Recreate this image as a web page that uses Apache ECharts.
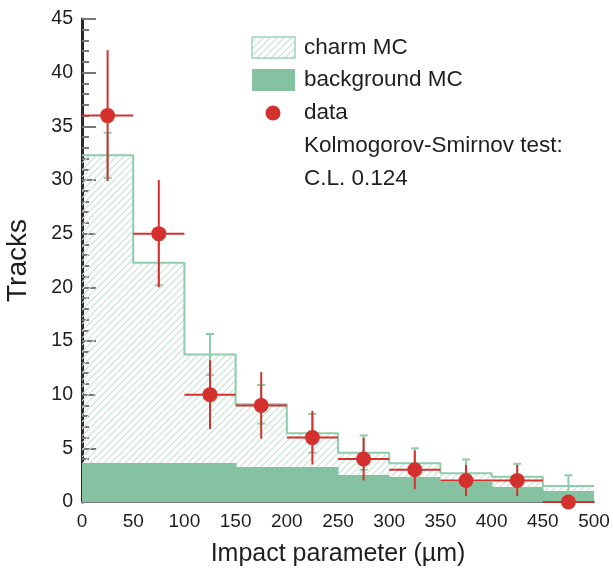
<!DOCTYPE html>
<html>
<head>
<meta charset="utf-8">
<script src="https://cdn.jsdelivr.net/npm/echarts@6/dist/echarts.min.js"></script>
<style>html,body{margin:0;padding:0;background:#fff;}#c{width:613px;height:569px;}</style>
</head>
<body>
<div id="c"></div>
<script>
// bin edges (µm)
var binEdges = [0, 50, 100, 150, 200, 250, 300, 350, 400, 450, 500];
// charm MC (total, stacked on background)
var mcTotal = [32.3, 22.3, 13.75, 9.1, 6.4, 4.6, 3.6, 2.67, 2.36, 1.49];
var mcErr = [2.1, 2.1, 1.9, 1.8, 1.8, 1.6, 1.4, 1.3, 1.2, 1.0];
// background MC
var bgMC = [3.6, 3.6, 3.6, 3.3, 3.3, 2.55, 2.35, 1.83, 1.37, 1.05];
// data
var dataVals = [36, 25, 10, 9, 6, 4, 3, 2, 2, 0];
var dataErr = [6.1, 5.0, 3.2, 3.1, 2.5, 2.0, 1.8, 1.45, 1.45, 0];
var xTicks = [0, 50, 100, 150, 200, 250, 300, 350, 400, 450, 500];
var yTicks = [0, 5, 10, 15, 20, 25, 30, 35, 40, 45];

var FONT = 'Liberation Sans, Arial, Helvetica, sans-serif';
var RED = '#d3302e';
var GREEN_FILL = '#84c2a2';
var GREEN_LINE = '#8dcdab';
var TEXT = '#1e1e1e';

// hatch pattern
var pc = document.createElement('canvas');
pc.width = 7; pc.height = 7;
var ctx = pc.getContext('2d');
ctx.strokeStyle = '#c8e3d5';
ctx.lineWidth = 1.2;
ctx.beginPath();
ctx.moveTo(0, 7); ctx.lineTo(7, 0);
ctx.moveTo(-1, 1); ctx.lineTo(1, -1);
ctx.moveTo(6, 8); ctx.lineTo(8, 6);
ctx.stroke();
var hatch = { image: pc, repeat: 'repeat' };

var bins = [];
for (var i = 0; i < mcTotal.length; i++) bins.push(i);

var mcRects = bins.map(function (i) { return [binEdges[i], binEdges[i + 1], mcTotal[i]]; });
var bgRects = bins.map(function (i) { return [binEdges[i], binEdges[i + 1], bgMC[i]]; });
var outline = bins.map(function (i) { return [binEdges[i], mcTotal[i]]; });
outline.push([binEdges[binEdges.length - 1], mcTotal[mcTotal.length - 1]]);
var mcErrData = bins.map(function (i) { return [(binEdges[i] + binEdges[i + 1]) / 2, mcTotal[i], mcErr[i]]; });
var dataErrData = bins.map(function (i) { return [binEdges[i], binEdges[i + 1], dataVals[i], dataErr[i]]; });
var dataPts = bins.map(function (i) { return [(binEdges[i] + binEdges[i + 1]) / 2, dataVals[i]]; });

function rectRender(fill) {
  return function (params, api) {
    var p0 = api.coord([api.value(0), api.value(2)]);
    var p1 = api.coord([api.value(1), 0]);
    var x0 = Math.round(p0[0]), x1 = Math.round(p1[0]);
    var y0 = Math.round(p0[1]), y1 = Math.round(p1[1]);
    return { type: 'rect', shape: { x: x0, y: y0, width: x1 - x0 + 0.5, height: y1 - y0 }, style: { fill: fill } };
  };
}

var chart = echarts.init(document.getElementById('c'), null, { renderer: 'canvas' });
chart.setOption({
  animation: false,
  backgroundColor: '#fff',
  textStyle: { fontFamily: FONT },
  grid: { left: 82, right: 19, top: 19, bottom: 67, containLabel: false, outerBoundsMode: 'none' },
  xAxis: [{
    type: 'value', min: 0, max: 500, interval: 50,
    name: 'Impact parameter (µm)', nameLocation: 'middle', nameGap: 40,
    nameTextStyle: { fontSize: 25, color: TEXT, fontFamily: FONT },
    axisLine: { show: true, lineStyle: { color: '#b5b5b5', width: 1 } },
    axisTick: { show: false },
    splitLine: { show: false },
    axisLabel: { fontSize: 19, color: TEXT, margin: 10, fontFamily: FONT,
      formatter: function (v) { return xTicks.indexOf(v) >= 0 ? String(v) : ''; } }
  }, {
    type: 'value', min: 0, max: 500, position: 'top',
    axisLine: { show: true, lineStyle: { color: '#777', width: 2 } },
    axisTick: { show: false }, axisLabel: { show: false }, splitLine: { show: false }
  }],
  yAxis: [{
    type: 'value', min: 0, max: 45, interval: 5,
    name: 'Tracks', nameLocation: 'middle', nameGap: 50, nameRotate: 90,
    nameTextStyle: { fontSize: 28, color: TEXT, fontFamily: FONT },
    axisLine: { show: true, lineStyle: { color: '#777', width: 2 } },
    axisTick: { show: true, inside: true, length: 14, lineStyle: { color: '#777', width: 2 } },
    minorTick: { show: true, splitNumber: 5, length: 7, lineStyle: { color: '#777', width: 2 } },
    splitLine: { show: false },
    axisLabel: { fontSize: 19.5, color: TEXT, margin: 9, fontFamily: FONT,
      formatter: function (v) { return yTicks.indexOf(v) >= 0 ? String(v) : ''; } }
  }, {
    type: 'value', min: 0, max: 45, position: 'right',
    axisLine: { show: true, lineStyle: { color: '#2a2a2a', width: 3 } },
    axisTick: { show: false }, axisLabel: { show: false }, splitLine: { show: false }
  }],
  series: [
    { type: 'custom', name: 'charm MC', z: 1, data: mcRects, renderItem: rectRender(hatch), clip: true },
    { type: 'custom', name: 'background MC', z: 2, data: bgRects, renderItem: rectRender(GREEN_FILL), clip: true },
    { type: 'line', name: 'outline', z: 3, step: 'end', data: outline, symbol: 'none',
      lineStyle: { color: GREEN_LINE, width: 2 } },
    { type: 'custom', name: 'mcerr', z: 4, data: mcErrData,
      renderItem: function (params, api) {
        var x = api.value(0), v = api.value(1), e = api.value(2);
        var top = api.coord([x, v + e]), bot = api.coord([x, v - e]);
        var st = { stroke: GREEN_LINE, lineWidth: 2 };
        return { type: 'group', children: [
          { type: 'line', shape: { x1: top[0], y1: top[1], x2: bot[0], y2: bot[1] }, style: st },
          { type: 'line', shape: { x1: top[0] - 4, y1: top[1], x2: top[0] + 4, y2: top[1] }, style: st },
          { type: 'line', shape: { x1: bot[0] - 4, y1: bot[1], x2: bot[0] + 4, y2: bot[1] }, style: st }
        ] };
      } },
    { type: 'custom', name: 'dataerr', z: 5, data: dataErrData,
      renderItem: function (params, api) {
        var lo = api.value(0), hi = api.value(1), v = api.value(2), e = api.value(3);
        var xc = (lo + hi) / 2;
        var a = api.coord([lo, v]), b = api.coord([hi, v]);
        var t = api.coord([xc, v + e]), u = api.coord([xc, v - e]);
        var st = { stroke: RED, lineWidth: 2 };
        return { type: 'group', children: [
          { type: 'line', shape: { x1: a[0], y1: a[1], x2: b[0], y2: b[1] }, style: st },
          { type: 'line', shape: { x1: t[0], y1: t[1], x2: u[0], y2: u[1] }, style: st }
        ] };
      } },
    { type: 'scatter', name: 'data', z: 6, data: dataPts, symbol: 'circle', symbolSize: 15,
      itemStyle: { color: RED, opacity: 1 }, clip: false }
  ],
  graphic: [
    { type: 'rect', z: 100, shape: { x: 252, y: 37, width: 43, height: 21 }, style: { fill: hatch, stroke: '#9fd4b9', lineWidth: 1.5 } },
    { type: 'rect', z: 100, shape: { x: 252, y: 69, width: 43, height: 22 }, style: { fill: GREEN_FILL } },
    { type: 'circle', z: 100, shape: { cx: 273, cy: 113, r: 7.5 }, style: { fill: RED } },
    { type: 'text', z: 100, x: 304, y: 48, style: { text: 'charm MC', fontSize: 22.5, fontFamily: FONT, fill: TEXT, verticalAlign: 'middle' } },
    { type: 'text', z: 100, x: 304, y: 80, style: { text: 'background MC', fontSize: 22.5, fontFamily: FONT, fill: TEXT, verticalAlign: 'middle' } },
    { type: 'text', z: 100, x: 304, y: 113, style: { text: 'data', fontSize: 22.5, fontFamily: FONT, fill: TEXT, verticalAlign: 'middle' } },
    { type: 'text', z: 100, x: 304, y: 146, style: { text: 'Kolmogorov-Smirnov test:', fontSize: 22.5, fontFamily: FONT, fill: TEXT, verticalAlign: 'middle' } },
    { type: 'text', z: 100, x: 304, y: 179, style: { text: 'C.L. 0.124', fontSize: 22.5, fontFamily: FONT, fill: TEXT, verticalAlign: 'middle' } }
  ]
});
</script>
</body>
</html>
